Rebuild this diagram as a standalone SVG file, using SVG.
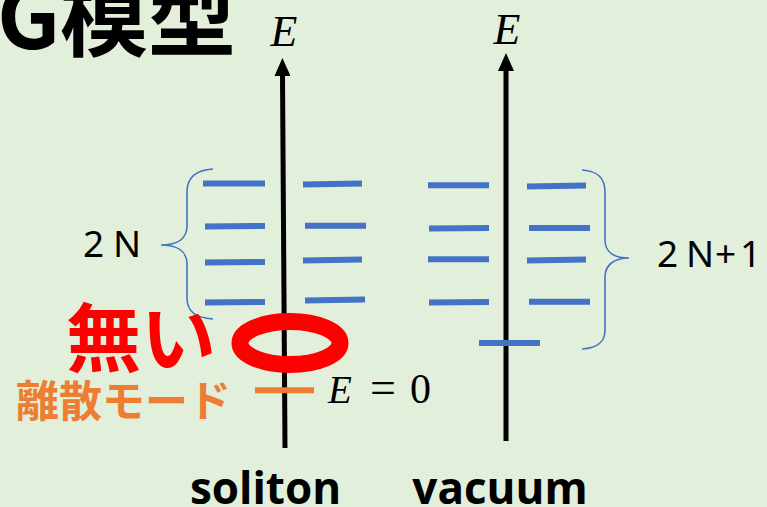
<svg xmlns="http://www.w3.org/2000/svg" width="767" height="507" viewBox="0 0 767 507">
<style>
.lvl{stroke:#4472C4;stroke-width:6;fill:none}
.axis{stroke:#000;stroke-width:5;fill:none}
.brace{stroke:#4472C4;stroke-width:1.6;fill:none}
.math{font-family:"Liberation Serif","DejaVu Serif",serif;fill:#000}
.lbl{font-family:"Noto Sans","Open Sans",sans-serif;fill:#000}
.cjk{font-family:"Noto Sans CJK JP",sans-serif;font-weight:bold}
.bold{font-family:"Open Sans","Noto Sans",sans-serif;font-weight:bold;fill:#000}
</style>
<defs>
<marker id="arr" markerUnits="userSpaceOnUse" markerWidth="18" markerHeight="16" refX="0" refY="8" orient="auto">
<path d="M0,0 L18,8 L0,16 z" fill="#000"/>
</marker>
</defs>
<rect width="767" height="507" fill="#E2EFDA"/>
<g id="title"><text class="cjk" x="-3" y="49" font-size="88" fill="#000">G模型</text></g>
<g id="connectors">
<line class="axis" x1="285" y1="448" x2="282.5" y2="76" marker-end="url(#arr)"/>
<line class="axis" x1="506" y1="441" x2="506" y2="71" marker-end="url(#arr)"/>
</g>
<g id="axis-labels">
<text class="math" x="284" y="46" font-size="44" font-style="italic" text-anchor="middle">E</text>
<text class="math" x="507" y="44" font-size="44" font-style="italic" text-anchor="middle">E</text>
</g>
<g id="soliton-levels">
<line class="lvl" x1="203" y1="183.5" x2="265" y2="183.5"/>
<line class="lvl" x1="205" y1="226.5" x2="265" y2="226"/>
<line class="lvl" x1="205" y1="262.5" x2="265" y2="262"/>
<line class="lvl" x1="205" y1="302.5" x2="265" y2="302"/>
<line class="lvl" x1="303" y1="184.5" x2="362" y2="183.5"/>
<line class="lvl" x1="305" y1="225.7" x2="366" y2="225.7"/>
<line class="lvl" x1="303" y1="260.5" x2="362" y2="259.5"/>
<line class="lvl" x1="305" y1="300.5" x2="365" y2="299.5"/>
</g>
<g id="vacuum-levels">
<line class="lvl" x1="428" y1="185.3" x2="489" y2="185.3"/>
<line class="lvl" x1="429" y1="228.5" x2="489" y2="228"/>
<line class="lvl" x1="428" y1="259.3" x2="489" y2="259.3"/>
<line class="lvl" x1="429" y1="302.5" x2="489" y2="302"/>
<line class="lvl" x1="527" y1="186.5" x2="586" y2="185.5"/>
<line class="lvl" x1="529" y1="228" x2="590" y2="228"/>
<line class="lvl" x1="527" y1="260.5" x2="586" y2="259.5"/>
<line class="lvl" x1="529" y1="301.7" x2="590" y2="301.7"/>
<line class="lvl" x1="479" y1="343" x2="540" y2="343"/>
</g>
<g id="brace-2N">
<path class="brace" d="M213,169 C196,170 187,178 187,192 L187,226 C187,238 178,245 161,245 C178,245 187,252 187,264 L187,298 C187,312 196,318 213,319"/>
<text class="lbl" y="256.5" font-size="37"><tspan x="83">2</tspan><tspan x="113">N</tspan></text>
</g>
<g id="brace-2N1">
<path class="brace" d="M582,170 C598,171 605,178 605,192 L605,240 C605,252 614,258 629,258 C614,258 605,265 605,277 L605,330 C605,342 598,348 582,349"/>
<text class="lbl" y="266.5" font-size="37"><tspan x="657">2</tspan><tspan x="686">N</tspan><tspan x="715">+</tspan><tspan x="740">1</tspan></text>
</g>
<g id="missing">
<ellipse cx="290" cy="343" rx="50" ry="21.5" fill="none" stroke="#FF0000" stroke-width="17"/>
<text class="cjk" x="66" y="366" font-size="75" fill="#FF0000">無い</text>
</g>
<g id="discrete-mode">
<line x1="255" y1="390.3" x2="314" y2="390.3" stroke="#ED7D31" stroke-width="6"/>
<text class="cjk" x="16" y="417" font-size="43" fill="#ED7D31">離散モード</text>
<text class="math" y="403"><tspan x="328" font-size="39" font-style="italic">E</tspan><tspan x="370" font-size="46">=</tspan><tspan x="410" font-size="42">0</tspan></text>
</g>
<g id="bottom-labels">
<text class="bold" x="265.5" y="504" font-size="44" text-anchor="middle">soliton</text>
<text class="bold" x="500" y="504" font-size="44" text-anchor="middle">vacuum</text>
</g>
</svg>
